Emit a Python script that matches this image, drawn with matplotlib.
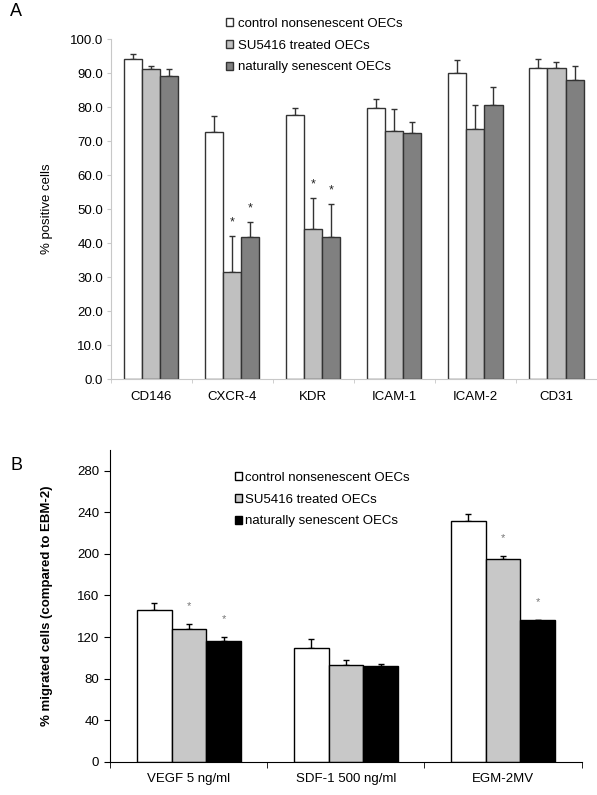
import matplotlib
matplotlib.use("Agg")
import matplotlib.pyplot as plt
import numpy as np

plt.rcParams['font.family'] = ['Liberation Sans', 'DejaVu Sans']

# panel A data
markers = ['CD146', 'CXCR-4', 'KDR', 'ICAM-1', 'ICAM-2', 'CD31']
a_control = [94.2, 72.6, 77.8, 79.8, 90.1, 91.6]
a_su5416 = [91.2, 31.4, 44.3, 73.0, 73.7, 91.6]
a_senescent = [89.2, 41.7, 41.7, 72.4, 80.7, 88.0]
a_control_err = [1.5, 4.8, 2.1, 2.6, 3.8, 2.5]
a_su5416_err = [1.0, 10.7, 9.0, 6.6, 7.0, 1.7]
a_senescent_err = [2.0, 4.4, 9.7, 3.3, 5.3, 4.1]
a_sig = [[0, 0, 0], [0, 1, 1], [0, 1, 1], [0, 0, 0], [0, 0, 0], [0, 0, 0]]

# panel B data
stimuli = ['VEGF 5 ng/ml', 'SDF-1 500 ng/ml', 'EGM-2MV']
b_control = [146.4, 109.2, 231.2]
b_su5416 = [127.8, 93.2, 194.7]
b_senescent = [116.6, 92.2, 136.4]
b_control_err = [6.7, 9.3, 7.4]
b_su5416_err = [4.8, 4.8, 3.6]
b_senescent_err = [3.9, 1.9, 0.0]
b_sig = [[0, 1, 1], [0, 0, 0], [0, 1, 1]]

labels = ['control nonsenescent OECs', 'SU5416 treated OECs', 'naturally senescent OECs']

fig = plt.figure(figsize=(5.97, 7.95), dpi=100)
W, H = 597.0, 795.0

def draw_groups(ax, series, errs, colors, edge, sig, star_off, star_color, width, capsize, star_size):
    n = len(series[0])
    x = np.arange(n)
    handles = []
    for i, (vals, err, col) in enumerate(zip(series, errs, colors)):
        pos = x + (i - 1) * width
        h = ax.bar(pos, vals, width, color=col, edgecolor=edge, linewidth=1.0, zorder=2)
        handles.append(h)
        ax.errorbar(pos, vals, yerr=[np.zeros(n), err], fmt='none', ecolor=edge,
                    elinewidth=1.0, capsize=capsize, capthick=1.0, zorder=1)
        for k in range(n):
            if sig[k][i]:
                ax.text(pos[k], vals[k] + err[k] + star_off, '*', ha='center', va='center',
                        fontsize=star_size, color=star_color)
    return handles


# ---- panel A
axA = fig.add_axes([110.7 / W, 1 - 379 / H, (597 - 110.7) / W, (379 - 39.3) / H])
hA = draw_groups(axA, [a_control, a_su5416, a_senescent],
                 [a_control_err, a_su5416_err, a_senescent_err],
                 ['white', '#c0c0c0', '#808080'], '#333333', a_sig, 4.0, '#222222', 0.223, 2.5, 9)
axA.set_xlim(-0.5, -0.5 + (597 - 110.7) / 82.2)
axA.set_ylim(0, 100)
axA.set_yticks(np.arange(0, 101, 10))
axA.set_yticklabels(['%.1f' % v for v in np.arange(0, 101, 10)])
axA.set_xticks(range(len(markers)))
axA.set_xticklabels(markers)
axA.set_xticks(np.arange(-0.5, len(markers), 1), minor=True)
axA.tick_params(axis='x', which='major', length=0, pad=8.5, labelsize=9.5)
axA.tick_params(axis='x', which='minor', length=3, color='#c8c8c8', direction='out')
axA.tick_params(axis='y', length=3, color='#c8c8c8', pad=2.5, labelsize=9.5)
for s in ['top', 'right']:
    axA.spines[s].set_visible(False)
for s in ['left', 'bottom']:
    axA.spines[s].set_color('#c8c8c8')
axA.set_ylabel('% positive cells', fontsize=9.5)
axA.yaxis.set_label_coords(-(110.7 - 53) / (597 - 110.7), 0.5)
fig.text(10 / W, 1 - 12 / H, 'A', fontsize=13, va='center', ha='left')
fig.legend(hA, labels, loc='upper left', bbox_to_anchor=(226 / W, 1 - 18 / H),
           frameon=False, fontsize=9.5, handlelength=0.55, handleheight=0.55,
           handletextpad=0.35, labelspacing=0.73, borderpad=0, borderaxespad=0)

# ---- panel B
axB = fig.add_axes([110.4 / W, 1 - 761.7 / H, (581.5 - 110.4) / W, (761.7 - 450) / H])
hB = draw_groups(axB, [b_control, b_su5416, b_senescent],
                 [b_control_err, b_su5416_err, b_senescent_err],
                 ['white', '#c8c8c8', 'black'], 'black', b_sig, 17, '#777777', 0.221, 2.2, 8)
axB.set_xlim(-0.5, len(stimuli) - 0.5)
axB.set_ylim(0, 300)
axB.set_yticks(np.arange(0, 281, 40))
axB.set_xticks(range(len(stimuli)))
axB.set_xticklabels(stimuli)
axB.set_xticks(np.arange(-0.5, len(stimuli), 1), minor=True)
axB.tick_params(axis='x', which='major', length=0, pad=8, labelsize=9.5)
axB.tick_params(axis='x', which='minor', length=4, color='black', direction='out')
axB.tick_params(axis='y', length=4, pad=4, labelsize=9.5)
for s in ['top', 'right']:
    axB.spines[s].set_visible(False)
axB.set_ylabel('% migrated cells (compared to EBM-2)', fontsize=9.5, fontweight='bold')
axB.yaxis.set_label_coords(-(110.4 - 53) / (581.5 - 110.4), 0.5)
fig.text(10 / W, 1 - 465 / H, 'B', fontsize=13, va='center', ha='left')
fig.legend(hB, labels, loc='upper left', bbox_to_anchor=(235 / W, 1 - 472 / H),
           frameon=False, fontsize=9.5, handlelength=0.55, handleheight=0.55,
           handletextpad=0.2, labelspacing=0.73, borderpad=0, borderaxespad=0)

fig.savefig('out.png', dpi=100)
